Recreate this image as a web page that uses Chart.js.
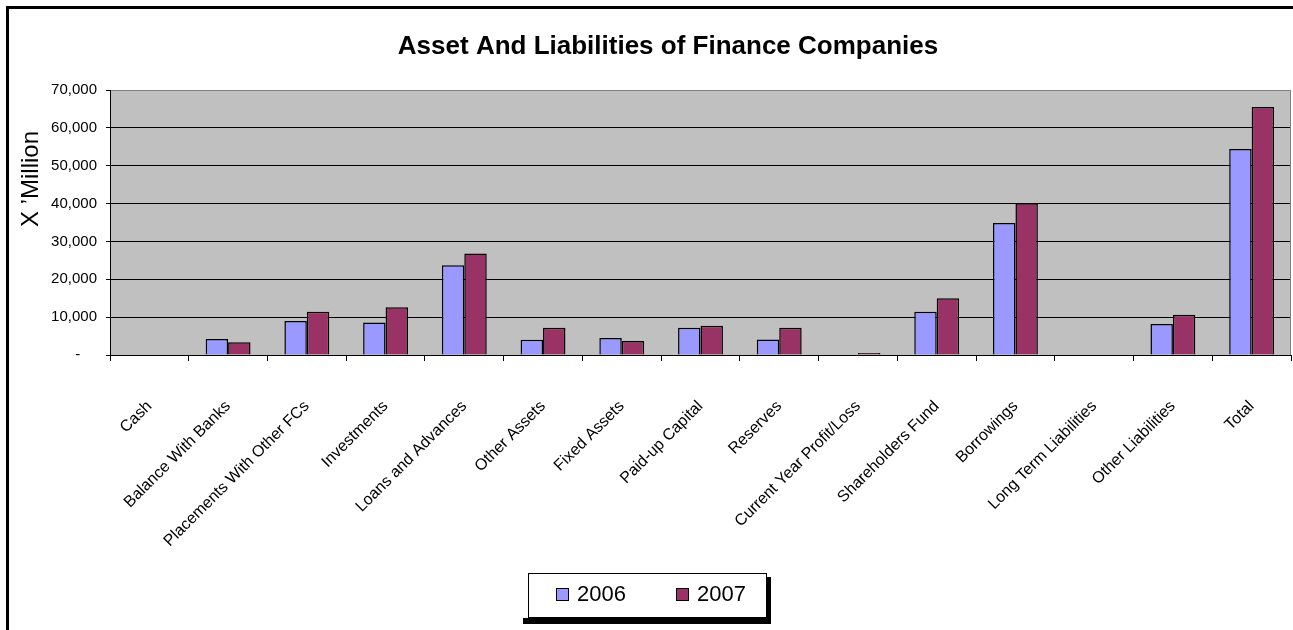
<!DOCTYPE html>
<html>
<head>
<meta charset="utf-8">
<title>Asset And Liabilities of Finance Companies</title>
<script src="https://cdn.jsdelivr.net/npm/chart.js@4.4.1/dist/chart.umd.min.js"></script>
<style>
  html, body { margin: 0; padding: 0; background: #fff; overflow: hidden; }
  #chart { display: block; }
</style>
</head>
<body>
<canvas id="chart" width="1293" height="630"></canvas>
<script>
// Balance sheet items of finance companies (million)
const categories = [
    'Cash', 'Balance With Banks', 'Placements With Other FCs', 'Investments',
    'Loans and Advances', 'Other Assets', 'Fixed Assets', 'Paid-up Capital',
    'Reserves', 'Current Year Profit/Loss', 'Shareholders Fund', 'Borrowings',
    'Long Term Liabilities', 'Other Liabilities', 'Total'
];
const values2006 = [0, 4200, 9000, 8600, 23700, 4000, 4500, 7200, 4100, 0, 11400, 34900, 0, 8200, 54400];
const values2007 = [0, 3400, 11400, 12600, 26800, 7200, 3700, 7700, 7200, 500, 15000, 40100, 0, 10600, 65500];
const seriesNames = ['2006', '2007'];
const seriesColors = ['#9999FF', '#993366'];
const yMax = 70000;
const yStep = 10000;

const chartTitle = 'Asset And Liabilities of Finance Companies';
const yTitle = 'X \u2019Million';
const FONT = '"Liberation Sans", Arial, sans-serif';

Chart.defaults.font.family = FONT;
Chart.defaults.color = '#000';

// Old Excel look: outer frame, grey plot area, titles and a boxed legend with shadow
const excelLook = {
    id: 'excelLook',
    beforeDraw(chart) {
        const { ctx, chartArea: a } = chart;
        ctx.save();
        ctx.fillStyle = '#000';
        ctx.fillRect(6, 6, chart.width, 3);
        ctx.fillRect(6, 6, 3, chart.height);
        ctx.fillStyle = '#C0C0C0';
        ctx.fillRect(a.left, a.top, a.right - a.left, a.bottom - a.top);
        ctx.restore();
    },
    beforeDatasetsDraw(chart) {
        const { ctx, chartArea: a } = chart;
        ctx.save();
        ctx.strokeStyle = '#808080';
        ctx.lineWidth = 1;
        ctx.beginPath();
        ctx.moveTo(a.right - 0.5, a.top);
        ctx.lineTo(a.right - 0.5, a.bottom);
        ctx.stroke();
        ctx.restore();
    },
    afterDraw(chart) {
        const ctx = chart.ctx;
        ctx.save();

        // chart title
        ctx.fillStyle = '#000';
        ctx.font = 'bold 26px ' + FONT;
        ctx.textAlign = 'center';
        ctx.textBaseline = 'middle';
        ctx.fillText(chartTitle, 668, 47);

        // value axis title
        ctx.save();
        ctx.translate(31, 179);
        ctx.rotate(-Math.PI / 2);
        ctx.font = '24px ' + FONT;
        ctx.fillText(yTitle, 0, 0);
        ctx.restore();

        // legend box with drop shadow
        ctx.fillStyle = '#000';
        ctx.fillRect(523, 618, 248, 6);
        ctx.fillRect(767, 577, 4, 47);
        ctx.fillStyle = '#fff';
        ctx.fillRect(528, 573, 239, 45);
        ctx.strokeStyle = '#000';
        ctx.lineWidth = 1;
        ctx.strokeRect(528.5, 573.5, 238, 44);

        ctx.font = '22px ' + FONT;
        ctx.textAlign = 'left';
        chart.data.datasets.forEach((ds, i) => {
            const sx = 556 + i * 120;
            ctx.fillStyle = ds.backgroundColor;
            ctx.fillRect(sx, 588, 12, 12);
            ctx.strokeRect(sx + 0.5, 588.5, 12, 12);
            ctx.fillStyle = '#000';
            ctx.fillText(ds.label, sx + 21, 595);
        });
        ctx.restore();
    }
};

const ctx = document.getElementById('chart').getContext('2d');
new Chart(ctx, {
    type: 'bar',
    data: {
        labels: categories,
        datasets: [
            { label: seriesNames[0], data: values2006, backgroundColor: seriesColors[0] },
            { label: seriesNames[1], data: values2007, backgroundColor: seriesColors[1] }
        ].map(ds => ({
            ...ds,
            borderColor: '#000',
            borderWidth: 1.5,
            categoryPercentage: 0.57,
            barPercentage: 1.0
        }))
    },
    options: {
        responsive: false,
        animation: false,
        layout: { padding: { left: 0, top: 90, right: 2, bottom: 0 } },
        plugins: {
            legend: { display: false },
            title: { display: false },
            tooltip: { enabled: false }
        },
        scales: {
            x: {
                offset: true,
                grid: {
                    offset: true,
                    drawOnChartArea: false,
                    drawTicks: true,
                    tickLength: 6,
                    color: '#000'
                },
                border: { display: true, color: '#000', width: 1 },
                ticks: {
                    autoSkip: false,
                    minRotation: 45,
                    maxRotation: 45,
                    padding: 36,
                    font: { size: 16 },
                    color: '#000'
                },
                afterFit: (scale) => {
                    // rotated labels should not push the plot area inwards
                    scale.height = 275;
                    scale.paddingLeft = 0;
                    scale.paddingRight = 0;
                }
            },
            y: {
                min: 0,
                max: yMax,
                ticks: {
                    stepSize: yStep,
                    padding: 9,
                    font: { size: 15 },
                    color: '#000',
                    callback: (v) => v === 0 ? '-    ' : v.toLocaleString('en-US')
                },
                grid: {
                    color: (c) => c.tick && c.tick.value === yMax ? '#808080' : '#000',
                    tickColor: '#000',
                    tickLength: 4,
                    lineWidth: 1
                },
                border: { display: true, color: '#000', width: 1 },
                afterFit: (scale) => { scale.width = 110; }
            }
        }
    },
    plugins: [excelLook]
});
</script>
</body>
</html>
